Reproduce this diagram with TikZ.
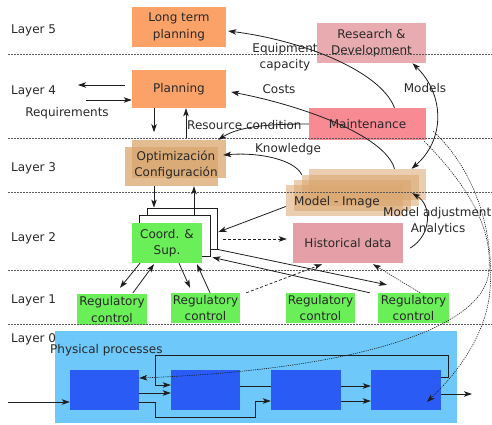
\documentclass[tikz,border=0pt]{standalone}
\usepackage{fontspec}
\setmainfont{DejaVu Sans}
\usetikzlibrary{arrows.meta}
\definecolor{orng}{RGB}{250,162,104}
\definecolor{rndc}{RGB}{232,172,176}
\definecolor{mnt}{RGB}{247,138,146}
\definecolor{hst}{RGB}{228,160,166}
\definecolor{tanc}{RGB}{217,165,110}
\definecolor{grn}{RGB}{106,239,88}
\definecolor{skyb}{RGB}{110,200,250}
\definecolor{dblue}{RGB}{42,92,245}
\definecolor{txt}{RGB}{40,40,40}
\definecolor{lncol}{RGB}{30,30,30}
\definecolor{sepcol}{RGB}{90,90,90}
\begin{document}
\begin{tikzpicture}[x=1pt,y=-1pt,font=\fontsize{12}{16.5}\selectfont,
  >={Stealth[length=8pt,width=5.5pt,inset=2pt]},
  box/.style={rectangle,inner sep=0pt,align=center,text=txt},
  lbl/.style={inner sep=0pt,text=txt,align=center},
  ln/.style={draw=lncol,line width=0.8pt},
  arr/.style={ln,->},
  sep/.style={draw=sepcol,line width=0.6pt,dash pattern=on 2pt off 1pt},
  dotsl/.style={draw=lncol,line width=0.6pt,dash pattern=on 1.2pt off 1pt},
  dashl/.style={draw=lncol,line width=0.7pt,dash pattern=on 3pt off 2pt},
  ghost/.style={rectangle,inner sep=0pt,fill=tanc,fill opacity=0.55},
  stack/.style={rectangle,inner sep=0pt,fill=white,draw=lncol,line width=0.7pt}
]
\useasboundingbox (0,0) rectangle (492,424);

% ---------- Layer 0: physical processes ----------
\node[box,fill=skyb,minimum width=402,minimum height=92] (phys) at (256,377) {};
\node[box,fill=dblue,minimum width=69,minimum height=40] (b1) at (104.5,390) {};
\node[box,fill=dblue,minimum width=69,minimum height=40] (b2) at (205.5,390) {};
\node[box,fill=dblue,minimum width=70,minimum height=40] (b3) at (306,390) {};
\node[box,fill=dblue,minimum width=70,minimum height=40] (b4) at (406,390) {};
\node[lbl,anchor=west] (physlbl) at (50,350) {Physical processes};

\coordinate (pin) at (8,402);
\coordinate (pout) at (472,394);
\draw[arr] (pin) -- (b1.west |- pin);
\draw[arr] ([yshift=-3pt]b1.east) -- ([yshift=-3pt]b2.west);
\draw[arr] ([yshift=-12pt]b1.east) -- ++(16,0) -- ++(0,15) -- ++(100,0) -- ++(0,-16) -- ([yshift=-11pt]b3.west);
\draw[arr] ([yshift=13pt]b4.east) -- ++(7,0) -- ++(0,-22) -- ++(-293,0) -- ++(0,30) -- ([yshift=5pt]b2.west);
\draw[ln] ([yshift=4pt]b2.east) -- ([yshift=4pt]b3.west);
\draw[arr] ([yshift=4pt]b3.east) -- ([yshift=4pt]b4.west);
\draw[arr] ([yshift=-11pt]b3.east) -- ([yshift=-11pt]b4.west);
\draw[arr] ([yshift=-4pt]b4.east) -- (pout);

% ---------- boxes ----------
\node[box,fill=orng,minimum width=94,minimum height=40] (ltp) at (179,27) {Long term\\planning};
\node[box,fill=orng,minimum width=94,minimum height=38] (plan) at (179,89) {Planning};
\node[box,fill=rndc,minimum width=109,minimum height=40] (rnd) at (371.5,43) {Research \&\\Development};
\node[box,fill=mnt,minimum width=117,minimum height=32] (maint) at (367.5,124) {Maintenance};

\node[ghost,fill opacity=0.75,minimum width=94,minimum height=38] (optb) at (179,159) {};
\node[ghost,fill opacity=0.75,minimum width=93,minimum height=39] (opt) at (171.5,166.5) {};
\node[lbl] (optlbl) at (176,165) {Optimización\\Configuración};

\node[ghost,minimum width=117,minimum height=31] (mi1) at (344.5,200.5) {};
\node[ghost,minimum width=117,minimum height=31] (mi2) at (352.5,195.5) {};
\node[ghost,minimum width=117,minimum height=31] (mi3) at (360.5,190.5) {};
\node[ghost,minimum width=117,minimum height=31] (mi4) at (367.5,184.5) {};
\node[lbl] (milbl) at (337,202) {Model - Image};

\node[box,fill=hst,minimum width=110,minimum height=40] (hist) at (348,243) {Historical data};

\node[stack,minimum width=70,minimum height=41] (r3) at (182,228.5) {};
\node[stack,minimum width=71,minimum height=41] (r2) at (174.5,235.5) {};
\node[box,fill=grn,minimum width=70,minimum height=40] (coord) at (167,243) {Coord. \&\\Sup.};

\node[box,fill=grn,minimum width=70,minimum height=31] (reg1) at (112,309.5) {Regulatory\\control};
\node[box,fill=grn,minimum width=69,minimum height=30] (reg2) at (205.5,308) {Regulatory\\control};
\node[box,fill=grn,minimum width=69,minimum height=30] (reg3) at (320.5,308) {Regulatory\\control};
\node[box,fill=grn,minimum width=71,minimum height=30] (reg4) at (413.5,308) {Regulatory\\control};

% ---------- layer separators ----------
\foreach \yy in {54,138,192,270,324} \draw[sep] (8,\yy) -- (492,\yy);

% ---------- layer labels ----------
\node[lbl,anchor=west] (l5) at (11,30) {Layer 5};
\node[lbl,anchor=west] (l4) at (11,91) {Layer 4};
\node[lbl,anchor=west] (l3) at (11,168) {Layer 3};
\node[lbl,anchor=west] (l2) at (11,238) {Layer 2};
\node[lbl,anchor=west] (l1) at (11,300) {Layer 1};
\node[lbl,anchor=west] (l0) at (11,339) {Layer 0};

% ---------- layer 4 connectors ----------
\coordinate (out4) at (78,85);
\coordinate (req) at (86,100);
\coordinate (rc) at (186,138);
\draw[arr] ([xshift=-7pt,yshift=4pt]plan.west) -- (out4);
\draw[arr] (req) -- (plan.west |- req);
\node[lbl] (reqlbl) at (67,113) {Requirements};
\draw[arr] ([xshift=-25pt]plan.south) -- ++(0,24);
\draw[arr] (rc) -- ([xshift=7pt]plan.south);
\node[lbl,anchor=west] (rclbl) at (187,125) {Resource condition};

% Maintenance -> Optimizacion
\draw[arr] (maint.west) .. controls (270,124) and (240,126) .. ([xshift=-8pt]optb.north east);
% Equipment capacity
\draw[arr] ([xshift=27pt]maint.north) .. controls (380,70) and (300,40) .. ([xshift=2pt,yshift=-4pt]ltp.east);
\node[lbl] (eqlbl) at (285,57) {Equipment\\capacity};
% Costs
\draw[arr] ([xshift=27pt]mi4.north) .. controls (385,135) and (300,105) .. ([xshift=5pt,yshift=-3pt]plan.east);
\node[lbl] (costlbl) at (279,89) {Costs};
% Models
\draw[ln,<->] ([xshift=41pt]rnd.south) .. controls (445,95) and (445,140) .. ([xshift=44pt]mi4.north);
\node[lbl] (modlbl) at (425,88) {Models};
% Knowledge
\draw[arr] (mi3.north west) .. controls (295,160) and (260,152) .. ([xshift=-3pt,yshift=4pt]optb.east);
\node[lbl] (knlbl) at (288,149) {Knowledge};
% Model adjustment
\draw[arr] ([xshift=7pt,yshift=-5pt]hist.east) .. controls (432,235) and (432,205) .. ([xshift=-7pt,yshift=13pt]mi3.south east);
\node[lbl,anchor=west] (malbl) at (383,213) {Model adjustment};
\node[lbl] (anlbl) at (438,229) {Analytics};

% ---------- layer 2 connectors ----------
\draw[arr] ([xshift=-17.5pt]opt.south) -- ([xshift=-17.5pt]opt.south |- r3.north);
\draw[arr] ([xshift=19.5pt]r2.north) -- ([xshift=19.5pt]r2.north |- opt.south);
\draw[arr] ([yshift=-6pt]mi1.west) -- ([xshift=1pt,yshift=-3.5pt]r3.east);
\draw[dashl,->] ([xshift=6pt,yshift=-10.5pt]r3.east) -- ([xshift=-6pt,yshift=4pt]hist.west);
\draw[arr] (r3.south east) -- ([xshift=9pt,yshift=8pt]reg4.north west);
\draw[arr] ([xshift=-8pt]reg4.north west) -- ([xshift=2pt,yshift=-1pt]r2.south east);

% ---------- layer 1 connectors ----------
\draw[arr] ([xshift=-27pt]coord.south) -- ([xshift=8pt,yshift=6pt]reg1.north);
\draw[arr] ([xshift=21pt,yshift=1pt]reg1.north) -- ([xshift=-13pt,yshift=-1pt]coord.south);
\draw[arr] ([xshift=12pt]coord.south) -- ([xshift=-15.5pt,yshift=5pt]reg2.north);
\draw[arr] ([xshift=4.5pt]reg2.north) -- ([xshift=30pt,yshift=-1pt]coord.south);
\draw[dashl,->] ([xshift=6pt]reg2.north east) -- ([xshift=-26pt,yshift=-1pt]hist.south);
\draw[dotsl,->] ([xshift=6.5pt]reg4.north) -- ([xshift=25pt,yshift=-1pt]hist.south);

% ---------- long curves from maintenance ----------
\draw[dotsl,->] ([xshift=7pt,yshift=9pt]maint.south east) .. controls (480,175) and (494,240) .. (490,290)
   .. controls (486,340) and (450,380) .. ([xshift=21pt,yshift=-12pt]b4.center);
\draw[dotsl,->] ([xshift=-2pt,yshift=-1pt]maint.south east) .. controls (472,190) and (492,230) .. (489,270)
   .. controls (486,330) and (350,370) .. ([yshift=12pt]b1.east);
\end{tikzpicture}
\end{document}
